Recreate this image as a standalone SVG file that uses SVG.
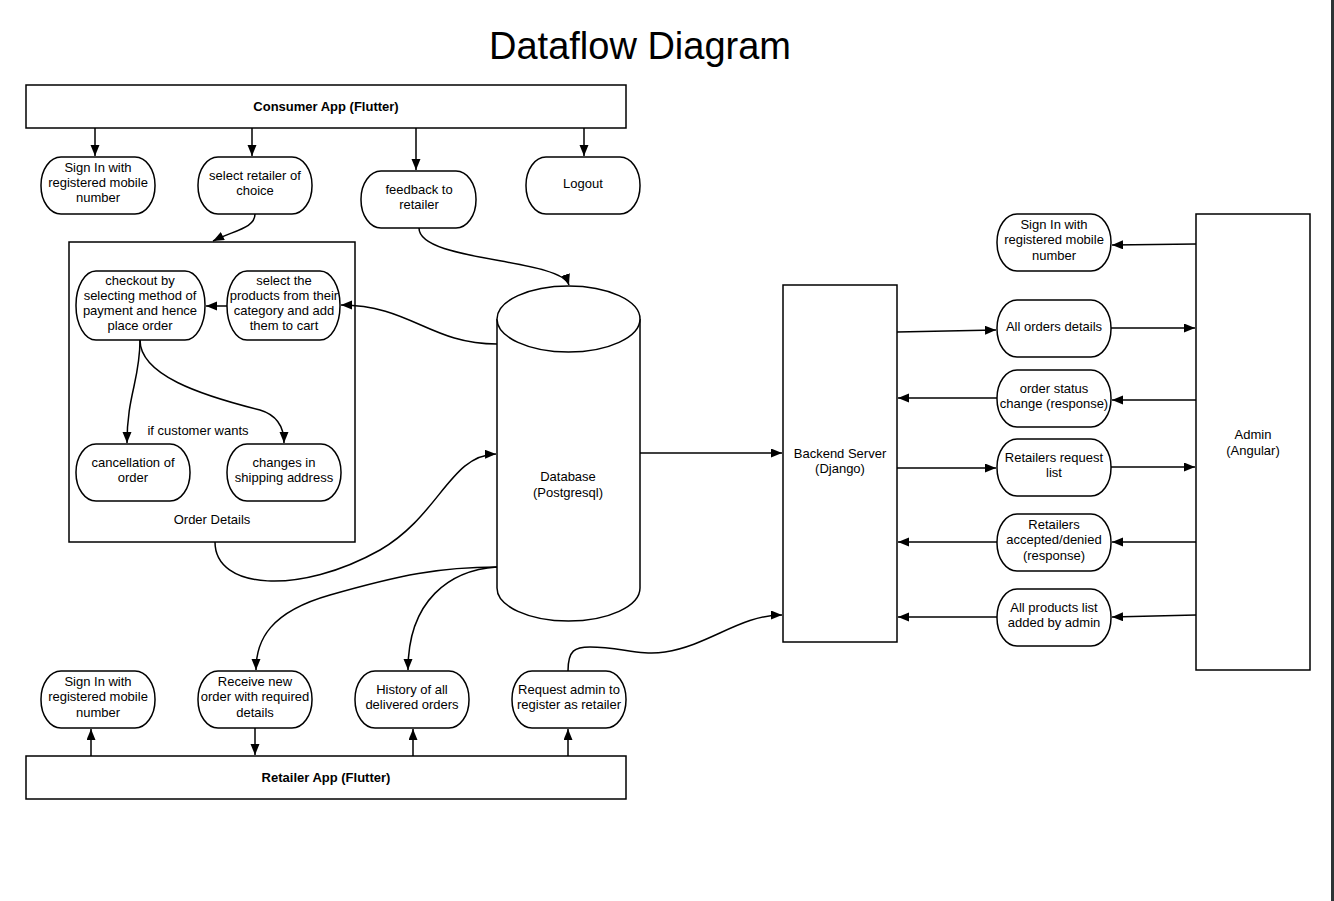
<svg xmlns="http://www.w3.org/2000/svg" width="1334" height="901" viewBox="0 0 1334 901">
<style>
.box{fill:#fff;stroke:#000;stroke-width:1.5}
.node{fill:#fff;stroke:#000;stroke-width:1.5}
.t{font-family:"Liberation Sans",Arial,sans-serif;font-size:13px;fill:#000;text-anchor:middle}
.b{font-weight:bold}
.c{fill:none;stroke:#000;stroke-width:1.5;marker-end:url(#ah)}
</style>
<defs>
<marker id="ah" markerUnits="userSpaceOnUse" markerWidth="12" markerHeight="10" refX="11" refY="4.5" orient="auto">
<path d="M0,0 L11,4.5 L0,9 z" fill="#000"/>
</marker>
</defs>
<rect x="0" y="0" width="1334" height="901" fill="#fff"/>
<rect x="1331" y="0" width="3" height="901" fill="#2d3436"/>
<text x="640" y="59" font-family="Liberation Sans, Arial, sans-serif" font-size="38" text-anchor="middle">Dataflow Diagram</text>

<g id="consumer-app"><rect class="box" x="26" y="85" width="600" height="43"/><text class="t b" x="326" y="111">Consumer App (Flutter)</text></g>
<g id="c-signin"><rect class="node" x="41" y="157" width="114" height="57" rx="20" ry="28"/><text class="t" x="98" y="172">Sign In with</text><text class="t" x="98" y="187">registered mobile</text><text class="t" x="98" y="202">number</text></g>
<g id="c-select-retailer"><rect class="node" x="198" y="157" width="114" height="57" rx="20" ry="28"/><text class="t" x="255" y="180">select retailer of</text><text class="t" x="255" y="195">choice</text></g>
<g id="c-feedback"><rect class="node" x="361" y="171" width="115" height="57" rx="20" ry="28"/><text class="t" x="419" y="194">feedback to</text><text class="t" x="419" y="209">retailer</text></g>
<g id="c-logout"><rect class="node" x="526" y="157" width="114" height="57" rx="20" ry="28"/><text class="t" x="583" y="188">Logout</text></g>

<g id="order-details"><rect class="box" x="69" y="242" width="286" height="300"/><text class="t" x="212" y="524">Order Details</text><text class="t" x="198" y="435">if customer wants</text></g>
<g id="checkout"><rect class="node" x="76" y="271" width="129" height="69" rx="20" ry="34"/><text class="t" x="140" y="285">checkout by</text><text class="t" x="140" y="300">selecting method of</text><text class="t" x="140" y="315">payment and hence</text><text class="t" x="140" y="330">place order</text></g>
<g id="select-products"><rect class="node" x="227" y="271" width="113" height="69" rx="20" ry="34"/><text class="t" x="284" y="285">select the</text><text class="t" x="284" y="300">products from their</text><text class="t" x="284" y="315">category and add</text><text class="t" x="284" y="330">them to cart</text></g>
<g id="cancellation"><rect class="node" x="76" y="444" width="114" height="57" rx="20" ry="28"/><text class="t" x="133" y="467">cancellation of</text><text class="t" x="133" y="482">order</text></g>
<g id="shipping"><rect class="node" x="227" y="444" width="114" height="57" rx="20" ry="28"/><text class="t" x="284" y="467">changes in</text><text class="t" x="284" y="482">shipping address</text></g>

<g id="database">
<path class="node" d="M497,319 L497,588 A71.5,33 0 0 0 640,588 L640,319"/>
<ellipse class="node" cx="568.5" cy="319" rx="71.5" ry="33"/>
<text class="t" x="568" y="481">Database</text><text class="t" x="568" y="497">(Postgresql)</text>
</g>

<g id="backend"><rect class="box" x="783" y="285" width="114" height="357"/><text class="t" x="840" y="458">Backend Server</text><text class="t" x="840" y="473">(Django)</text></g>
<g id="admin"><rect class="box" x="1196" y="214" width="114" height="456"/><text class="t" x="1253" y="439">Admin</text><text class="t" x="1253" y="455">(Angular)</text></g>

<g id="a-signin"><rect class="node" x="997" y="214" width="114" height="57" rx="20" ry="28"/><text class="t" x="1054" y="229">Sign In with</text><text class="t" x="1054" y="244">registered mobile</text><text class="t" x="1054" y="260">number</text></g>
<g id="a-all-orders"><rect class="node" x="997" y="300" width="114" height="57" rx="20" ry="28"/><text class="t" x="1054" y="331">All orders details</text></g>
<g id="a-order-status"><rect class="node" x="997" y="370" width="114" height="57" rx="20" ry="28"/><text class="t" x="1054" y="393">order status</text><text class="t" x="1054" y="408">change (response)</text></g>
<g id="a-retailers-request"><rect class="node" x="997" y="439" width="114" height="57" rx="20" ry="28"/><text class="t" x="1054" y="462">Retailers request</text><text class="t" x="1054" y="477">list</text></g>
<g id="a-retailers-accepted"><rect class="node" x="997" y="514" width="114" height="57" rx="20" ry="28"/><text class="t" x="1054" y="529">Retailers</text><text class="t" x="1054" y="544">accepted/denied</text><text class="t" x="1054" y="560">(response)</text></g>
<g id="a-products"><rect class="node" x="997" y="589" width="114" height="57" rx="20" ry="28"/><text class="t" x="1054" y="612">All products list</text><text class="t" x="1054" y="627">added by admin</text></g>

<g id="r-signin"><rect class="node" x="41" y="671" width="114" height="57" rx="20" ry="28"/><text class="t" x="98" y="686">Sign In with</text><text class="t" x="98" y="701">registered mobile</text><text class="t" x="98" y="717">number</text></g>
<g id="r-receive"><rect class="node" x="198" y="671" width="114" height="57" rx="20" ry="28"/><text class="t" x="255" y="686">Receive new</text><text class="t" x="255" y="701">order with required</text><text class="t" x="255" y="717">details</text></g>
<g id="r-history"><rect class="node" x="355" y="671" width="114" height="57" rx="20" ry="28"/><text class="t" x="412" y="694">History of all</text><text class="t" x="412" y="709">delivered orders</text></g>
<g id="r-request"><rect class="node" x="512" y="671" width="114" height="57" rx="20" ry="28"/><text class="t" x="569" y="694">Request admin to</text><text class="t" x="569" y="709">register as retailer</text></g>
<g id="retailer-app"><rect class="box" x="26" y="756" width="600" height="43"/><text class="t b" x="326" y="782">Retailer App (Flutter)</text></g>

<g id="connectors">
<path class="c" d="M95,128 L95,156"/>
<path class="c" d="M252,128 L252,156"/>
<path class="c" d="M416,128 L416,170"/>
<path class="c" d="M584,128 L584,156"/>
<path class="c" d="M255,214 C255,228 235,230 213,241"/>
<path class="c" d="M419,228 C419,262 560,258 569,285"/>
<path class="c" d="M497,344 C430,344 410,305 341,305"/>
<path class="c" d="M227,306 L206,306"/>
<path class="c" d="M140,340 C140,380 127,395 127,443"/>
<path class="c" d="M140,340 C140,375 200,395 260,410 C280,416 284,430 284,443"/>
<path class="c" d="M215,542 C215,590 300,595 380,550 C440,515 450,455 496,454"/>
<path class="c" d="M497,567 C440,567 400,575 330,595 C270,612 256,640 256,670"/>
<path class="c" d="M497,567 C450,570 408,600 408,670"/>
<path class="c" d="M568,671 C568,650 575,647 590,647 C620,647 640,656 665,652 C710,645 740,615 782,615"/>
<path class="c" d="M640,453 L782,453"/>
<path class="c" d="M897,332 L996,330"/>
<path class="c" d="M1111,328 L1195,328"/>
<path class="c" d="M1196,400 L1112,400"/>
<path class="c" d="M997,398 L898,398"/>
<path class="c" d="M897,468 L996,468"/>
<path class="c" d="M1111,467 L1195,467"/>
<path class="c" d="M1196,542 L1112,542"/>
<path class="c" d="M997,542 L898,542"/>
<path class="c" d="M1196,615 L1112,617"/>
<path class="c" d="M997,617 L898,617"/>
<path class="c" d="M1196,244 L1112,245"/>
<path class="c" d="M91,756 L91,729"/>
<path class="c" d="M255,728 L255,755"/>
<path class="c" d="M413,756 L413,729"/>
<path class="c" d="M568,756 L568,729"/>
</g>
</svg>
